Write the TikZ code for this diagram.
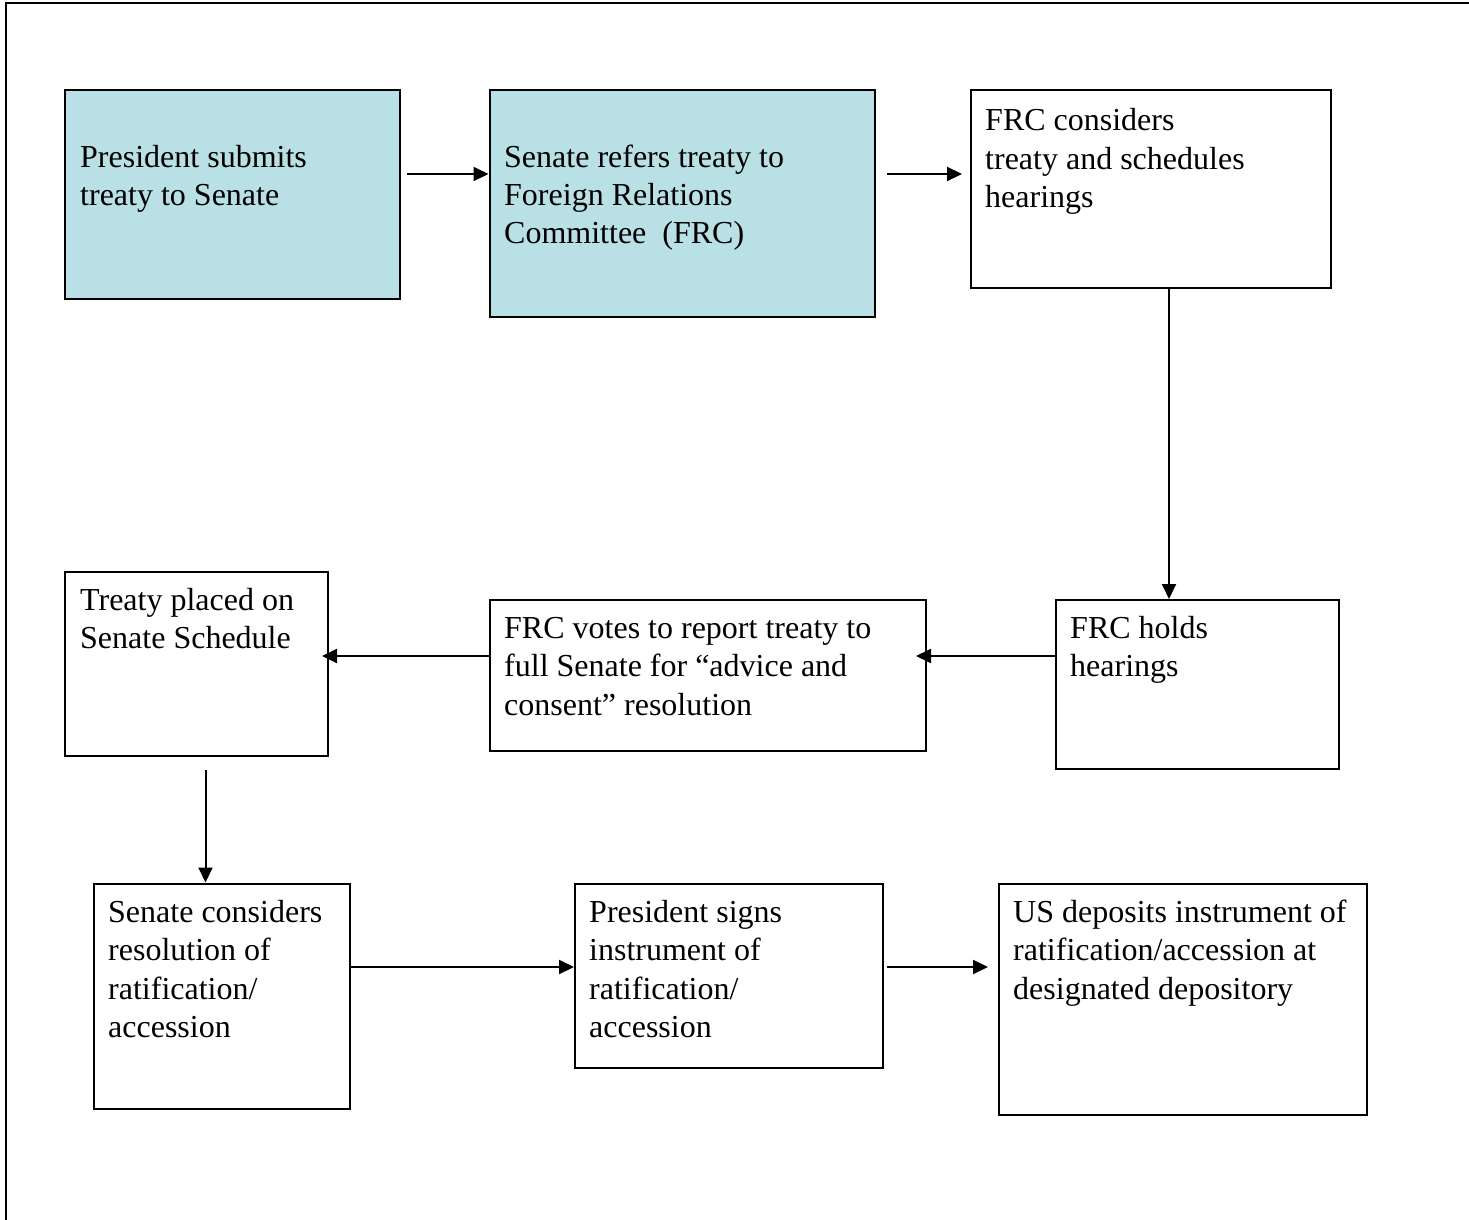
\documentclass[tikz,border=0pt]{standalone}
\usepackage{fontspec}
\setmainfont{Liberation Serif}
\usetikzlibrary{arrows.meta,calc}
\definecolor{boxcyan}{RGB}{185,224,228}
\begin{document}
\begin{tikzpicture}[x=1pt,y=-1pt,
  box/.style={draw=black,line width=2pt,rectangle,inner sep=0pt,anchor=north west},
  hl/.style={box,fill=boxcyan},
  txt/.style={anchor=base west,inner sep=0pt,font=\fontsize{32}{38.5}\selectfont},
  arr/.style={line width=2pt,-{Triangle[length=15pt,width=14pt]}},
  frameline/.style={line width=2.2pt}]
\useasboundingbox (0,0) rectangle (1469,1220);
% frame
\coordinate (fbl) at (6,1225);
\coordinate (ftl) at (6,3);
\coordinate (ftr) at (1475,3);
\draw[frameline] (fbl) -- (ftl) -- (ftr);
% boxes
\node[hl,minimum width=335pt,minimum height=209pt] (b1) at (63.5,89) {};
\node[hl,minimum width=385.5pt,minimum height=227pt] (b2) at (488.5,89) {};
\node[box,minimum width=360pt,minimum height=197.5pt] (b3) at (970,89.5) {};
\node[box,minimum width=283pt,minimum height=169pt] (b4) at (1055,599) {};
\node[box,minimum width=436pt,minimum height=151pt] (b5) at (489,599) {};
\node[box,minimum width=263pt,minimum height=184pt] (b6) at (64,571) {};
\node[box,minimum width=256pt,minimum height=225.5pt] (b7) at (93,882.5) {};
\node[box,minimum width=308pt,minimum height=184.5pt] (b8) at (574,882.5) {};
\node[box,minimum width=368pt,minimum height=231.5pt] (b9) at (998,882.5) {};
% texts
\node[txt] (t1) at (80,167) {\vtop{\hbox{President submits}\hbox{treaty to Senate}}};
\node[txt] (t2) at (504,167) {\vtop{\hbox{Senate refers treaty to}\hbox{Foreign Relations}\hbox{Committee\ \ (FRC)}}};
\node[txt] (t3) at (985,131) {\vtop{\hbox{FRC considers}\hbox{treaty and schedules}\hbox{hearings}}};
\node[txt] (t4) at (1070,638) {\vtop{\hbox{FRC holds}\hbox{hearings}}};
\node[txt] (t5) at (504,638) {\vtop{\hbox{FRC votes to report treaty to}\hbox{full Senate for “advice and}\hbox{consent” resolution}}};
\node[txt] (t6) at (80,610) {\vtop{\hbox{Treaty placed on}\hbox{Senate Schedule}}};
\node[txt] (t7) at (108,922) {\vtop{\hbox{Senate considers}\hbox{resolution of}\hbox{ratification/}\hbox{accession}}};
\node[txt] (t8) at (589,922) {\vtop{\hbox{President signs}\hbox{instrument of}\hbox{ratification/}\hbox{accession}}};
\node[txt] (t9) at (1013,922) {\vtop{\hbox{US deposits instrument of}\hbox{ratification/accession at}\hbox{designated depository}}};
% connectors
\draw[arr] ($(b1.north east)+(6,85)$) -- ($(b2.north west)+(0,85)$);
\draw[arr] ($(b2.north east)+(11,85)$) -- ($(b3.north west)+(-8,84.5)$);
\draw[arr] ($(b3.south west)+(199,0)$) -- ($(b4.north west)+(114,0)$);
\draw[arr] ($(b4.north west)+(0,57)$) -- ($(b5.north east)+(-11,57)$);
\draw[arr] ($(b5.north west)+(0,57)$) -- ($(b6.north east)+(-7,85)$);
\draw[arr] ($(b6.south west)+(141.5,13)$) -- ($(b7.north west)+(112.5,0)$);
\draw[arr] ($(b7.north east)+(-2,84.5)$) -- ($(b8.north west)+(0,84.5)$);
\draw[arr] ($(b8.north east)+(3,84.5)$) -- ($(b9.north west)+(-10,84.5)$);
\end{tikzpicture}
\end{document}
